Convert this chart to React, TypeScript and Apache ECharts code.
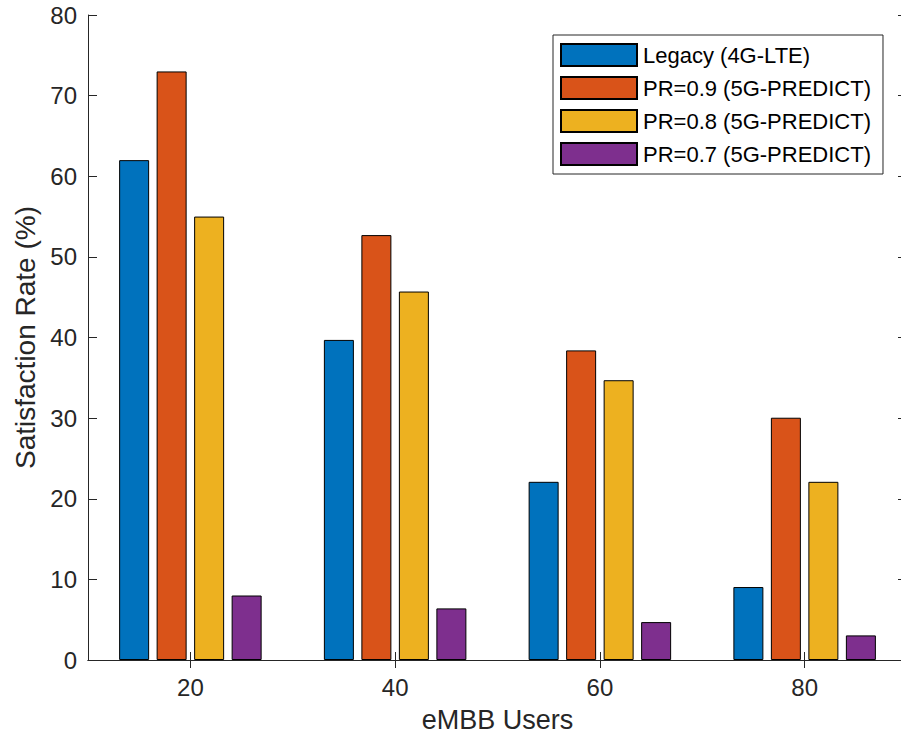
import React, { useEffect, useRef } from "react";
import * as echarts from "echarts";

// eMBB user counts on the x axis
const users = [20, 40, 60, 80];

// Satisfaction rate (%) per scheme
const legacy = [62, 39.7, 22.1, 9.05];
const pr09 = [73, 52.7, 38.4, 30.05];
const pr08 = [55, 45.7, 34.7, 22.1];
const pr07 = [8, 6.4, 4.7, 3.05];

const seriesNames = [
  "Legacy (4G-LTE)",
  "PR=0.9 (5G-PREDICT)",
  "PR=0.8 (5G-PREDICT)",
  "PR=0.7 (5G-PREDICT)",
];
const colors = ["#0072BD", "#D95319", "#EDB120", "#7E2F8E"];

const yTicks = [0, 10, 20, 30, 40, 50, 60, 70, 80];

const FONT = "'Liberation Sans', Arial, Helvetica, sans-serif";
const INK = "#262626";

export default function App() {
  const ref = useRef<HTMLDivElement>(null);

  useEffect(() => {
    if (!ref.current) return;
    const chart = echarts.init(ref.current, undefined, { renderer: "svg" });

    const values = [legacy, pr09, pr08, pr07];
    const axisLine = { show: true, lineStyle: { color: INK, width: 1 } };

    const xCommon = {
      type: "value" as const,
      min: 10,
      max: 90,
      axisLine,
      splitLine: { show: false },
      axisTick: {
        show: true,
        inside: true,
        length: 8,
        customValues: users,
        lineStyle: { color: INK },
      },
    };
    const yCommon = {
      type: "value" as const,
      min: yTicks[0],
      max: yTicks[yTicks.length - 1],
      interval: 10,
      axisLine,
      splitLine: { show: false },
      axisTick: { show: true, inside: true, length: 9, lineStyle: { color: INK } },
    };

    chart.setOption({
      animation: false,
      backgroundColor: "#ffffff",
      textStyle: { fontFamily: FONT },
      grid: {
        left: 88,
        top: 15,
        width: 819,
        height: 645,
        containLabel: false,
        outerBoundsMode: "none",
      },
      legend: {
        orient: "vertical",
        left: 553,
        top: 35,
        padding: [8, 12, 8, 7],
        itemWidth: 76,
        itemHeight: 22,
        itemGap: 9,
        icon: "rect",
        backgroundColor: "#ffffff",
        borderColor: INK,
        borderWidth: 1,
        data: seriesNames,
        textStyle: { fontSize: 22, color: "#000000", fontFamily: FONT, padding: [0, 0, 0, 1] },
      },
      xAxis: [
        {
          ...xCommon,
          position: "bottom",
          name: "eMBB Users",
          nameLocation: "middle",
          nameGap: 46,
          nameTextStyle: { fontSize: 27, color: INK, fontFamily: FONT },
          axisLabel: {
            show: true,
            customValues: users,
            fontSize: 24,
            color: INK,
            margin: 15,
            fontFamily: FONT,
          },
        },
        {
          ...xCommon,
          position: "top",
          axisLabel: { show: false },
        },
      ],
      yAxis: [
        {
          ...yCommon,
          position: "left",
          name: "Satisfaction Rate (%)",
          nameLocation: "middle",
          nameGap: 48,
          nameTextStyle: { fontSize: 28, color: INK, fontFamily: FONT },
          axisLabel: { show: true, fontSize: 24, color: INK, margin: 11, fontFamily: FONT },
        },
        {
          ...yCommon,
          position: "right",
          axisLabel: { show: false },
        },
      ],
      series: seriesNames.map((name, i) => ({
        name,
        type: "bar",
        xAxisIndex: 0,
        yAxisIndex: 0,
        barWidth: 30,
        barGap: "25%",
        itemStyle: { color: colors[i], borderColor: "#000000", borderWidth: 1 },
        data: users.map((u, j) => [u, values[i][j]]),
      })),
    });

    return () => chart.dispose();
  }, []);

  return (
    <div
      ref={ref}
      style={{ position: "fixed", left: 0, top: 0, width: 901, height: 735, background: "#fff" }}
    />
  );
}
